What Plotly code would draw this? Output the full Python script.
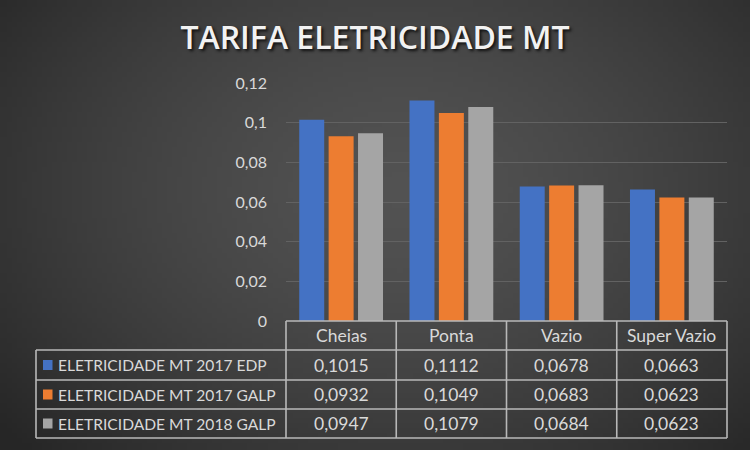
import base64, struct, zlib, math
import plotly.graph_objects as go

categories = ["Cheias", "Ponta", "Vazio", "Super Vazio"]
series_names = ["ELETRICIDADE MT 2017 EDP", "ELETRICIDADE MT 2017 GALP", "ELETRICIDADE MT 2018 GALP"]
edp_2017 = [0.1015, 0.1112, 0.0678, 0.0663]
galp_2017 = [0.0932, 0.1049, 0.0683, 0.0623]
galp_2018 = [0.0947, 0.1079, 0.0684, 0.0623]
series_values = [edp_2017, galp_2017, galp_2018]
colors = ["#4472C4", "#ED7D31", "#A5A5A5"]
title_text = "TARIFA ELETRICIDADE MT"

W, H = 750, 450
L, R, T, B = 286, 727, 83, 321  # plot area in pixels

def px(x):
    return (x - L) / (R - L)

def py(y):
    return (B - y) / (B - T)

# radial gradient background as PNG
def make_png(w, h):
    rows = b""
    for j in range(h):
        row = b"\x00"
        for i in range(w):
            X = i / (w - 1) * W
            Y = j / (h - 1) * H
            d = math.sqrt(((X - 400) / 520) ** 2 + ((Y - 190) / 380) ** 2)
            d = min(d, 1.0) ** 1.5
            v = int(round(82 - 44 * d))
            row += bytes([v, v, v])
        rows += row
    def chunk(tag, data):
        c = struct.pack(">I", len(data)) + tag + data
        return c + struct.pack(">I", zlib.crc32(tag + data) & 0xffffffff)
    png = b"\x89PNG\r\n\x1a\n"
    png += chunk(b"IHDR", struct.pack(">IIBBBBB", w, h, 8, 2, 0, 0, 0))
    png += chunk(b"IDAT", zlib.compress(rows, 9))
    png += chunk(b"IEND", b"")
    return "data:image/png;base64," + base64.b64encode(png).decode()

bg = make_png(150, 90)

FONT = "Lato"
TXT = "#d9d9d9"
LINE = "#b8b8b8"

fig = go.Figure()
for name, vals, col in zip(series_names, series_values, colors):
    fig.add_trace(go.Bar(x=categories, y=vals, name=name, marker=dict(color=col, line=dict(width=0))))

shapes = []
annotations = []

# table geometry (pixels)
col_edges = [286, 396.25, 506.5, 616.75, 727]
row_edges = [321, 350, 380, 409, 438]
legend_left = 36

def hline(y, x0, x1):
    shapes.append(dict(type="line", xref="paper", yref="paper", x0=px(x0), x1=px(x1), y0=py(y), y1=py(y),
                       line=dict(color=LINE, width=1.6)))

def vline(x, y0, y1):
    shapes.append(dict(type="line", xref="paper", yref="paper", x0=px(x), x1=px(x), y0=py(y0), y1=py(y1),
                       line=dict(color=LINE, width=1.6)))

hline(row_edges[0], col_edges[0], col_edges[-1])
for y in row_edges[1:]:
    hline(y, legend_left, col_edges[-1])
for x in col_edges:
    vline(x, row_edges[0], row_edges[-1])
vline(legend_left, row_edges[1], row_edges[-1])

# header labels
for i, c in enumerate(categories):
    xc = (col_edges[i] + col_edges[i + 1]) / 2
    annotations.append(dict(text=c, xref="paper", yref="paper", x=px(xc), y=py((row_edges[0] + row_edges[1]) / 2),
                            showarrow=False, xanchor="center", yanchor="middle",
                            font=dict(family=FONT, size=17.5, color=TXT)))

# value rows with legend keys
for r, (name, vals, col) in enumerate(zip(series_names, series_values, colors)):
    yc = (row_edges[r + 1] + row_edges[r + 2]) / 2
    shapes.append(dict(type="rect", xref="paper", yref="paper", x0=px(43), x1=px(52.5), y0=py(yc - 5), y1=py(yc + 5),
                       fillcolor=col, line=dict(width=0)))
    annotations.append(dict(text=name, xref="paper", yref="paper", x=px(56), y=py(yc), showarrow=False,
                            xanchor="left", yanchor="middle", font=dict(family=FONT, size=15.6, color=TXT)))
    for i, v in enumerate(vals):
        xc = (col_edges[i] + col_edges[i + 1]) / 2
        annotations.append(dict(text=f"{v:.4f}".replace(".", ","), xref="paper", yref="paper", x=px(xc), y=py(yc),
                                showarrow=False, xanchor="center", yanchor="middle",
                                font=dict(family=FONT, size=17.5, color=TXT)))

fig.update_layout(
    width=W, height=H,
    margin=dict(l=L, r=W - R, t=T, b=H - B, pad=0),
    paper_bgcolor="#2b2b2b",
    plot_bgcolor="rgba(0,0,0,0)",
    separators=",.",
    barmode="group",
    bargap=0.2,
    bargroupgap=0.15,
    showlegend=False,
    title=dict(text=title_text, x=0.5, xref="container", xanchor="center", y=1 - 38 / H, yref="container",
               yanchor="middle",
               font=dict(family="Open Sans", size=32, color="#f2f2f2", weight=600, shadow="2px 2px 3px #111111")),
    xaxis=dict(showticklabels=False, showgrid=False, zeroline=False, showline=False, ticks=""),
    yaxis=dict(range=[0, 0.12], dtick=0.02, showgrid=True, gridcolor="#626262", gridwidth=1,
               zeroline=False, showline=False, ticks="", ticklabelstandoff=18,
               tickfont=dict(family=FONT, size=16, color=TXT)),
    shapes=shapes,
    annotations=annotations,
    images=[dict(source=bg, xref="paper", yref="paper", x=px(0), y=py(0), sizex=px(W) - px(0),
                 sizey=py(0) - py(H), xanchor="left", yanchor="top", sizing="stretch", layer="below")],
)

fig.write_html("out.html", config={"displayModeBar": False},
               post_script="document.body.style.margin='0';document.body.style.padding='0';")
